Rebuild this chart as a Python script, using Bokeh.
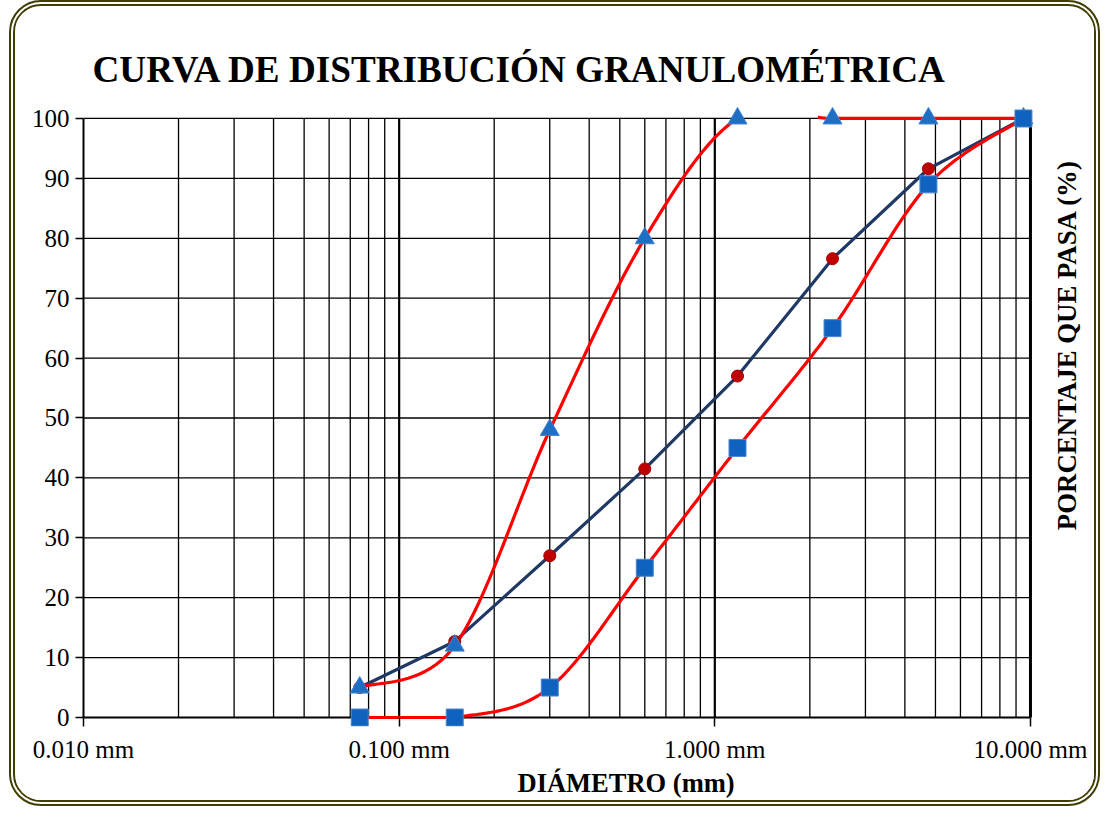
import numpy as np
from bokeh.plotting import figure
from bokeh.models import FixedTicker, CustomJSTickFormatter, Title, Label
from bokeh.embed import file_html
from bokeh.resources import INLINE

# ---- data ----
sieve_mm = [0.075, 0.15, 0.3, 0.6, 1.18, 2.36, 4.75, 9.5]
sample_pass = [5.0, 12.7, 27.0, 41.5, 57.0, 76.6, 91.6, 100.0]
upper_limit = [5.0, 12.0, 48.0, 80.0, 100.0, 100.0, 100.0, 100.0]
lower_limit = [0.0, 0.0, 5.0, 25.0, 45.0, 65.0, 89.0, 100.0]

x_ticks = [0.01, 0.1, 1.0, 10.0]
y_ticks = list(range(0, 101, 10))

SERIF = "Liberation Serif"


def smooth(xs, ys, n=40):
    # Excel-like (Catmull-Rom Bezier) smoothing, computed in screen-proportional space
    sx, sy = 315.67, 5.99
    P = np.column_stack([np.log10(xs) * sx, np.array(ys, float) * sy])
    out = []
    for i in range(len(P) - 1):
        p0 = P[i - 1] if i > 0 else P[i]
        p1 = P[i]
        p2 = P[i + 1]
        p3 = P[i + 2] if i + 2 < len(P) else P[i + 1]
        c1 = p1 + (p2 - p0) / 6.0
        c2 = p2 - (p3 - p1) / 6.0
        t = np.linspace(0, 1, n)[:, None]
        seg = ((1 - t) ** 3) * p1 + 3 * ((1 - t) ** 2) * t * c1 + 3 * (1 - t) * t ** 2 * c2 + t ** 3 * p2
        out.append(seg if i == 0 else seg[1:])
    Q = np.vstack(out)
    return 10 ** (Q[:, 0] / sx), Q[:, 1] / sy


def clip_to_area(y, lo, hi):
    # mimic the plot-area clipping of the original chart
    y = np.maximum(np.asarray(y, float), lo)
    y[y > hi + 0.25] = np.nan
    return y


xmin, xmax = x_ticks[0], x_ticks[-1]
ymin, ymax = y_ticks[0], y_ticks[-1]

p = figure(width=1091, height=806, x_axis_type="log",
           x_range=(xmin, 14.83), y_range=(-1.5, 103.0),
           output_backend="svg", toolbar_location=None,
           min_border_left=68, min_border_right=22, min_border_top=94, min_border_bottom=86,
           styles={"border": "6px double #3f3e00", "border-radius": "32px",
                   "overflow": "hidden", "background": "white",
                   "position": "relative", "left": "9px"})
p.outline_line_color = None
p.xgrid.visible = False
p.ygrid.visible = False

# title
p.title.text = "CURVA DE DISTRIBUCIÓN GRANULOMÉTRICA"
p.title.text_font = SERIF
p.title.text_font_style = "bold"
p.title.text_font_size = "37.2px"
p.title.text_color = "black"
p.title.align = "left"
p.title.offset = 9
p.title.standoff = 21

# axes
p.xaxis.ticker = FixedTicker(ticks=x_ticks)
p.xaxis.formatter = CustomJSTickFormatter(code="return tick.toFixed(3) + ' mm';")
p.xaxis.bounds = (xmin, xmax)
p.xaxis.axis_line_color = None
p.xaxis.major_tick_out = 0
p.xaxis.major_tick_in = 9
p.xaxis.major_label_standoff = 9
p.yaxis.ticker = FixedTicker(ticks=y_ticks)
p.yaxis.bounds = (ymin, ymax)
p.yaxis.axis_line_color = "black"
p.yaxis.axis_line_width = 2
p.yaxis.major_tick_out = 8
p.yaxis.major_tick_in = 0
p.yaxis.major_label_standoff = 6
for ax in (p.xaxis, p.yaxis):
    ax.major_label_text_font = SERIF
    ax.major_label_text_font_size = "25px"
    ax.major_label_text_color = "black"
    ax.minor_tick_out = 0
    ax.minor_tick_in = 0
    ax.major_tick_line_width = 1.5
    ax.major_tick_line_color = "black"

# axis titles
p.add_layout(Title(text="DIÁMETRO (mm)", text_font=SERIF, text_font_style="bold",
                   text_font_size="26.5px", text_color="black", align="left", offset=434,
                   standoff=1), "below")
p.add_layout(Label(x=13.1, y=62.2, text="PORCENTAJE QUE PASA (%)", angle=np.pi / 2,
                   text_font=SERIF, text_font_style="bold", text_font_size="26.8px",
                   text_align="center", text_baseline="middle", text_color="black"))

# grid lines (from the axis tick arrays)
minor = [m * 10.0 ** e for e in (-2, -1, 0) for m in range(2, 10)]
p.segment(x0=minor, y0=[ymin] * len(minor), x1=minor, y1=[ymax] * len(minor),
          line_color="black", line_width=1.3)
p.segment(x0=x_ticks[1:], y0=[ymin] * 3, x1=x_ticks[1:], y1=[ymax] * 3,
          line_color="black", line_width=[2.2, 2.2, 3.0])
p.segment(x0=[xmin] * 10, y0=y_ticks[1:], x1=[xmax] * 10, y1=y_ticks[1:],
          line_color="black", line_width=1.3)
p.segment(x0=[xmin], y0=[ymin], x1=[xmax], y1=[ymin], line_color="black", line_width=2)

# curves (limits smoothed, sample as straight segments)
ux, uy = smooth(sieve_mm, upper_limit)
lx, ly = smooth(sieve_mm, lower_limit)
p.line(sieve_mm, sample_pass, line_color="#1F3864", line_width=3.2)
p.line(ux, clip_to_area(uy, ymin, ymax), line_color="#FF0000", line_width=3.2)
p.line(lx, clip_to_area(ly, ymin, ymax), line_color="#FF0000", line_width=3.2)

p.scatter(sieve_mm, sample_pass, marker="circle", size=12, fill_color="#C00000", line_color="#A50000", line_width=1)
p.scatter(sieve_mm, upper_limit, marker="triangle", size=19, fill_color="#1E6FC4", line_color="#3F82CF", line_width=1)
p.scatter(sieve_mm, lower_limit, marker="square", size=17, fill_color="#0F63BF", line_color="#4A86D0", line_width=1)

open("out.html", "w").write(file_html(p, INLINE))
